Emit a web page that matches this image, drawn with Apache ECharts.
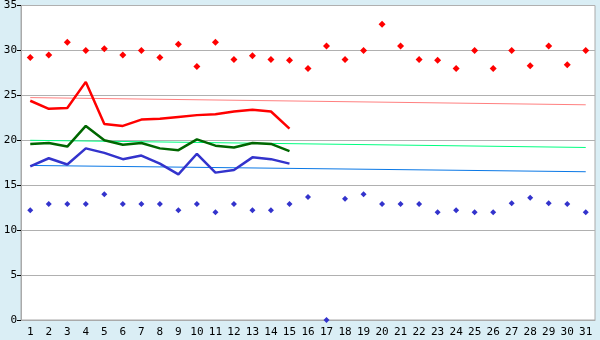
<!DOCTYPE html>
<html>
<head>
<meta charset="utf-8">
<script src="https://cdn.jsdelivr.net/npm/echarts@6/dist/echarts.min.js"></script>
<style>
    html, body { margin: 0; padding: 0; background: #daeef5; }
    #chart { width: 600px; height: 340px; }
</style>
</head>
<body>
<div id="chart"></div>
<script>
// days of the month
var days = [];
for (var d = 1; d <= 31; d++) days.push(String(d));

// daily max / min readings (diamonds)
var maxPoints = [29.2, 29.5, 30.9, 30.0, 30.2, 29.5, 30.0, 29.2, 30.7, 28.2,
    30.9, 29.0, 29.4, 29.0, 28.9, 28.0, 30.5, 29.0, 30.0, 32.9,
    30.5, 29.0, 28.9, 28.0, 30.0, 28.0, 30.0, 28.3, 30.5, 28.4, 30.0];
var minPoints = [12.2, 12.9, 12.9, 12.9, 14.0, 12.9, 12.9, 12.9, 12.2, 12.9,
    12.0, 12.9, 12.2, 12.2, 12.9, 13.7, 0, 13.5, 14.0, 12.9,
    12.9, 12.9, 12.0, 12.2, 12.0, 12.0, 13.0, 13.6, 13.0, 12.9, 12.0];

// first half of the month lines
var highLine = [24.4, 23.5, 23.6, 26.5, 21.8, 21.6, 22.3, 22.4, 22.6, 22.8,
    22.9, 23.2, 23.4, 23.2, 21.3];
var avgLine = [19.6, 19.7, 19.3, 21.6, 20.0, 19.5, 19.7, 19.1, 18.9, 20.1,
    19.4, 19.2, 19.7, 19.6, 18.8];
var lowLine = [17.1, 18.0, 17.3, 19.1, 18.6, 17.9, 18.3, 17.4, 16.2, 18.5,
    16.4, 16.7, 18.1, 17.9, 17.4];

// trend lines: value at day 1 and at day 31
var highTrend = [24.75, 23.95];
var avgTrend = [20.0, 19.2];
var lowTrend = [17.2, 16.5];

var yTicks = [0, 5, 10, 15, 20, 25, 30, 35];

function trend(t) {
    return [[days[0], t[0]], [days[days.length - 1], t[1]]];
}

function lineSeries(data, color, width) {
    return {
        type: "line",
        data: data,
        symbol: "none",
        silent: true,
        lineStyle: { color: color, width: width },
        animation: false
    };
}

function dotSeries(data, color, size) {
    return {
        type: "scatter",
        data: data,
        symbol: "diamond",
        symbolSize: size,
        itemStyle: { color: color, opacity: 1 },
        animation: false
    };
}

var chart = echarts.init(document.getElementById("chart"));
chart.setOption({
    backgroundColor: "#daeef5",
    textStyle: { fontFamily: "DejaVu Sans Mono" },
    grid: {
        left: 21,
        right: 5,
        top: 5,
        bottom: 20,
        show: true,
        backgroundColor: "#ffffff",
        borderColor: "#aaaaaa",
        borderWidth: 1
    },
    xAxis: {
        type: "category",
        data: days,
        boundaryGap: true,
        axisLine: { lineStyle: { color: "#aaaaaa" } },
        axisTick: { alignWithLabel: true, length: 5, lineStyle: { color: "#000000" } },
        axisLabel: { color: "#000000", fontSize: 11, margin: 7, interval: 0 },
        splitLine: { show: false }
    },
    yAxis: {
        type: "value",
        min: yTicks[0],
        max: yTicks[yTicks.length - 1],
        interval: 5,
        axisLine: { show: true, lineStyle: { color: "#aaaaaa" } },
        axisTick: { show: true, length: 4, lineStyle: { color: "#000000" } },
        axisLabel: { color: "#000000", fontSize: 11, margin: 4 },
        splitLine: { lineStyle: { color: "#b0b0b0" } }
    },
    series: [
        lineSeries(trend(highTrend), "#ff8080", 1),
        lineSeries(trend(avgTrend), "#00ff80", 1),
        lineSeries(trend(lowTrend), "#0a78e6", 1),
        lineSeries(highLine, "#ff0000", 2.5),
        lineSeries(avgLine, "#006600", 2.5),
        lineSeries(lowLine, "#3333cc", 2.5),
        dotSeries(maxPoints, "#ff0000", 7),
        dotSeries(minPoints, "#3333cc", 6)
    ]
});
</script>
</body>
</html>
